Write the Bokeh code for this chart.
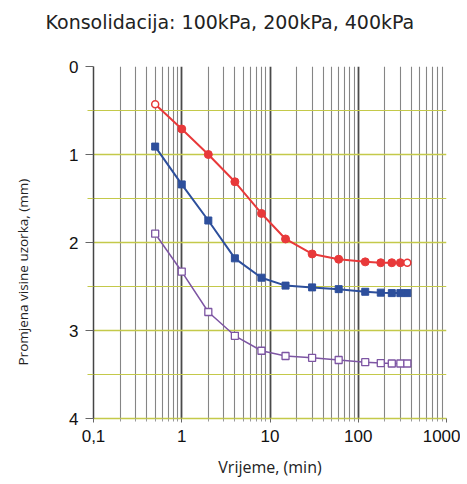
from bokeh.plotting import figure
from bokeh.models import Range1d, FixedTicker, Title
from bokeh.embed import file_html
from bokeh.resources import INLINE

# ---- data ----
time_min = [0.5, 1, 2, 4, 8, 15, 30, 60, 120, 180, 240, 300, 360]
s100 = [0.43, 0.71, 1.00, 1.31, 1.67, 1.96, 2.13, 2.19, 2.22, 2.23, 2.23, 2.23, 2.23]
s200 = [0.91, 1.34, 1.75, 2.18, 2.40, 2.49, 2.51, 2.53, 2.56, 2.57, 2.575, 2.575, 2.575]
s400 = [1.90, 2.33, 2.79, 3.06, 3.23, 3.29, 3.31, 3.335, 3.36, 3.37, 3.375, 3.375, 3.375]
x_ticks = [0.1, 1, 10, 100, 1000]
x_tick_labels = ["0,1", "1", "10", "100", "1000"]
y_ticks = [0, 1, 2, 3, 4]
title_text = "Konsolidacija: 100kPa, 200kPa, 400kPa"
x_label = "Vrijeme, (min)"
y_label = "Promjena visine uzorka, (mm)"

minor_x = [m * d for d in [0.1, 1, 10, 100] for m in range(2, 10)]

p = figure(width=460, height=480, x_axis_type="log",
           x_range=Range1d(0.1, 1000), y_range=Range1d(4, 0),
           output_backend="svg", toolbar_location=None,
           min_border_left=93, min_border_right=14, min_border_top=66,
           min_border_bottom=60)
p.outline_line_color = None
p.background_fill_color = "white"

xt = FixedTicker(ticks=x_ticks, minor_ticks=minor_x)
p.xaxis.ticker = xt
p.xaxis.major_label_overrides = {t: l for t, l in zip(x_ticks, x_tick_labels)}
p.xaxis.major_label_text_font = "Liberation Sans"
p.xaxis.major_label_text_font_size = "17px"
p.xaxis.major_label_text_color = "#111111"
p.xaxis.axis_line_color = "#c4c94a"
p.xaxis.axis_line_width = 1.5
p.xaxis.major_tick_line_color = "#666666"
p.xaxis.minor_tick_line_color = "#999999"
p.xaxis.major_tick_in = 0
p.xaxis.major_tick_out = 4
p.xaxis.minor_tick_in = 0
p.xaxis.minor_tick_out = 3
p.xaxis.major_label_standoff = 7
p.xaxis.axis_label = x_label
p.xaxis.axis_label_text_font = "Open Sans"
p.xaxis.axis_label_text_font_size = "16px"
p.xaxis.axis_label_text_font_style = "normal"
p.xaxis.axis_label_text_color = "#222222"
p.xaxis.axis_label_standoff = 11

p.xgrid.ticker = xt
p.xgrid.grid_line_color = "#4a4a4a"
p.xgrid.grid_line_width = 1.8
p.xgrid.minor_grid_line_color = "#858585"
p.xgrid.minor_grid_line_width = 1.1

yt = FixedTicker(ticks=y_ticks, minor_ticks=[0.5, 1.5, 2.5, 3.5])
p.yaxis.ticker = yt
p.yaxis.major_label_text_font = "Liberation Sans"
p.yaxis.major_label_text_font_size = "17px"
p.yaxis.major_label_text_color = "#111111"
p.yaxis.axis_line_color = "#444444"
p.yaxis.axis_line_width = 1.5
p.yaxis.major_tick_line_color = "#666666"
p.yaxis.minor_tick_line_color = "#c4c94a"
p.yaxis.major_tick_in = 0
p.yaxis.major_tick_out = 8
p.yaxis.minor_tick_in = 0
p.yaxis.minor_tick_out = 6
p.yaxis.major_label_standoff = 7
p.ygrid.ticker = yt
p.ygrid.grid_line_color = "#c4c94a"
p.ygrid.grid_line_width = 1.5
p.ygrid.minor_grid_line_color = "#c4c94a"
p.ygrid.minor_grid_line_width = 1.2

red = "#e8393a"
blue = "#2d4f9c"
purple = "#7d55a3"

p.line(time_min, s100, line_color=red, line_width=2)
p.scatter(time_min[1:-1], s100[1:-1], marker="circle", size=8,
          fill_color=red, line_color=red)
p.scatter([time_min[0], time_min[-1]], [s100[0], s100[-1]], marker="circle",
          size=7, fill_color="white", line_color=red, line_width=1.5)

p.line(time_min, s200, line_color=blue, line_width=2)
p.scatter(time_min, s200, marker="square", size=7, fill_color=blue,
          line_color=blue)

p.line(time_min, s400, line_color=purple, line_width=1.5)
p.scatter(time_min, s400, marker="square", size=7, fill_color="white",
          line_color=purple, line_width=1.3)

# spacers to push the titles outward
p.add_layout(Title(text=" ", text_font_size="10px", standoff=21), "above")
p.add_layout(Title(text=title_text, align="left", offset=-48, standoff=0,
                   text_font="DejaVu Sans", text_font_size="19px",
                   text_font_style="normal", text_color="#222222"), "above")
p.add_layout(Title(text=" ", text_font_size="10px", standoff=17), "left")
p.add_layout(Title(text=y_label, align="left", offset=53,
                   text_font="Open Sans", text_font_size="13.5px",
                   text_font_style="normal", text_color="#222222"), "left")

open("out.html", "w").write(file_html(p, INLINE))
